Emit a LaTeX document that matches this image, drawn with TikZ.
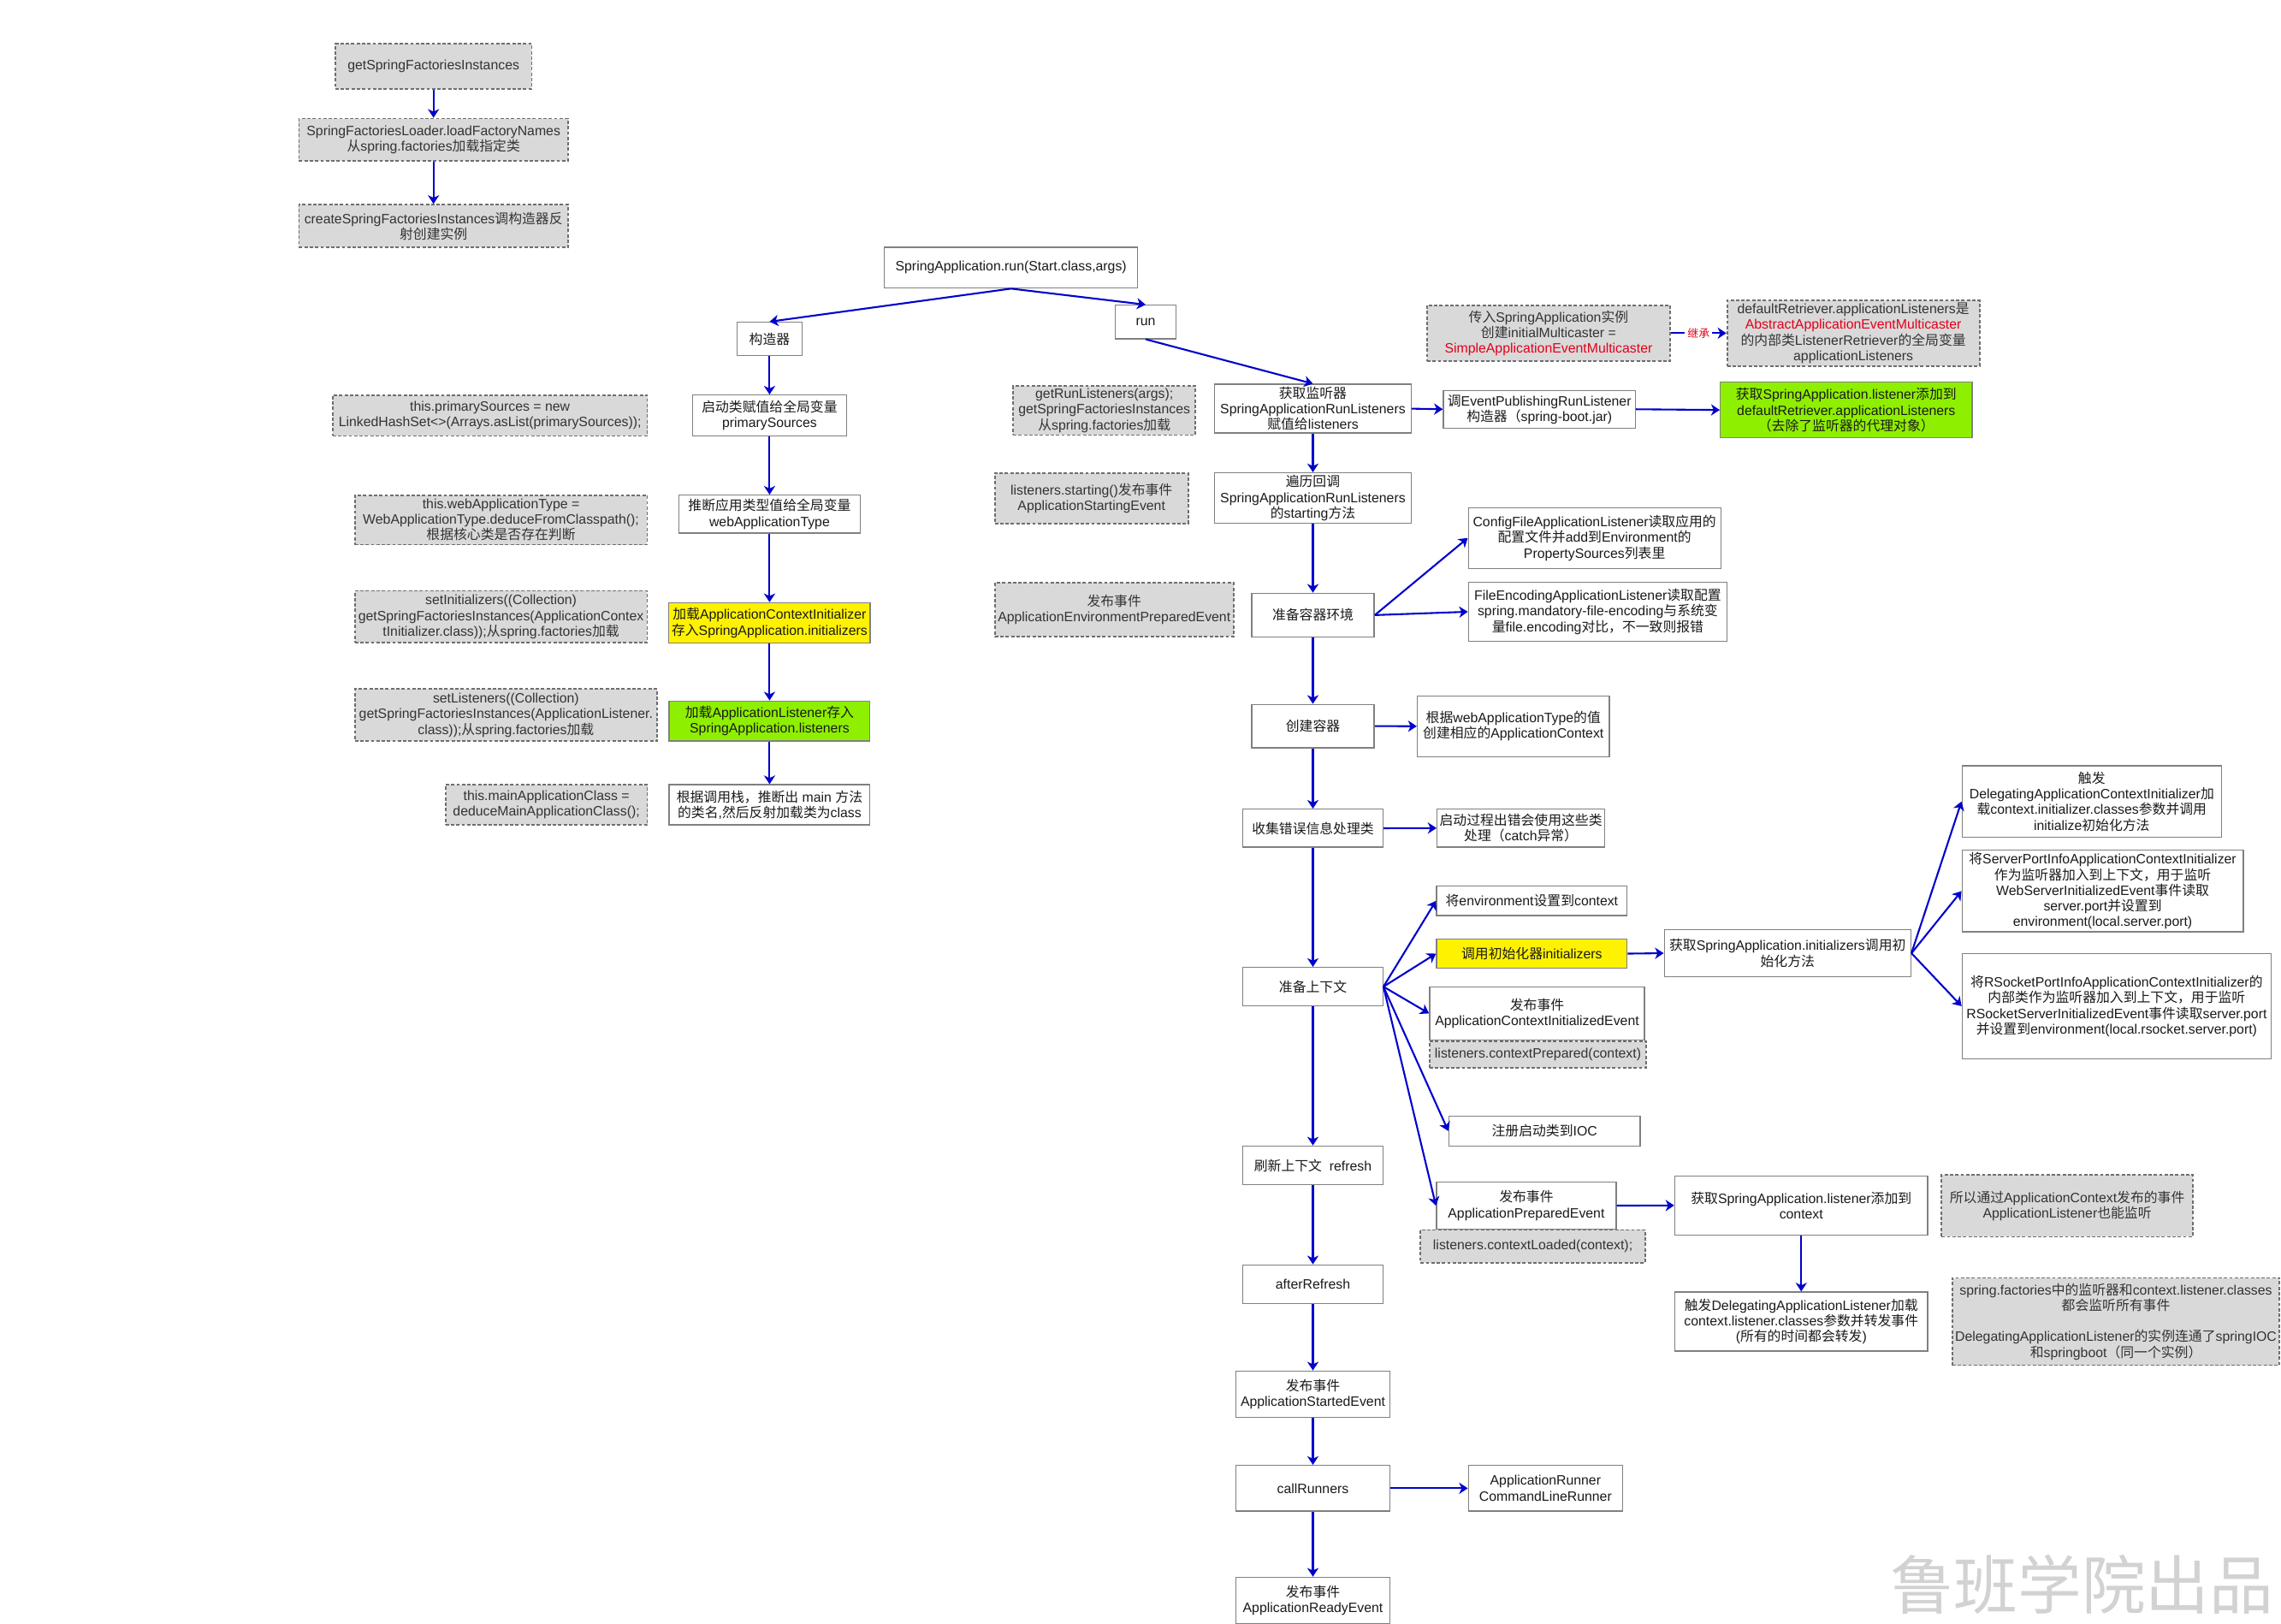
\documentclass[tikz,border=0pt]{standalone}
\usepackage{fontspec}
\usepackage{tikz}
\usetikzlibrary{arrows.meta}
\setmainfont{Liberation Sans}
\newfontfamily\hanface{Noto Sans CJK SC}
\newfontfamily\latface{Liberation Sans}
\XeTeXinterchartokenstate=1
\chardef\hanclass=7
\count255="3000
\loop\XeTeXcharclass\count255=\hanclass\advance\count255 by 1
  \ifnum\count255<"A000\repeat
\count255="FF00
\loop\XeTeXcharclass\count255=\hanclass\advance\count255 by 1
  \ifnum\count255<"FFF0\repeat
\XeTeXinterchartoks 0 \hanclass={\hanface}
\XeTeXinterchartoks 4095 \hanclass={\hanface}
\XeTeXinterchartoks \hanclass 0={\latface}
\XeTeXinterchartoks \hanclass 4095={\latface}
\definecolor{flow}{HTML}{0000CC}
\definecolor{rim}{HTML}{808080}
\definecolor{memorim}{HTML}{6E6E6E}
\definecolor{shade}{HTML}{D9D9D9}
\definecolor{ink}{HTML}{1A1A1A}
\definecolor{memoink}{HTML}{333333}
\definecolor{alert}{HTML}{E3001B}
\definecolor{lime}{HTML}{8FEF00}

\begin{document}
\begin{tikzpicture}[x=0.02cm,y=-0.02cm,
  blk/.style={draw=rim,fill=white,line width=0.45pt,align=center,inner sep=1pt,text=ink,
    font=\fontsize{5.3}{6.1}\selectfont},
  memo/.style={blk,draw=memorim,fill=shade,text=memoink,line width=0.6pt,dash pattern=on 1.3pt off 0.8pt},
  sz/.style 2 args={minimum width=#1*0.02cm,minimum height=#2*0.02cm},
  arr/.style={draw=flow,line width=0.7pt,-{Stealth[length=3.4pt,width=4.4pt,inset=1pt]}}]
  \useasboundingbox (0,0) rectangle (1568,1116);

  \node[memo,sz={135}{31}] (gsfi) at (298,45.5) {getSpringFactoriesInstances};
  \node[memo,sz={185}{29}] (sfl) at (298,96) {SpringFactoriesLoader.loadFactoryNames\\从spring.factories加载指定类};
  \node[memo,sz={185}{29.4}] (csfi) at (298,155.4) {createSpringFactoriesInstances调构造器反\\射创建实例};

  \node[blk,sz={174}{28}] (sarun) at (695,184) {SpringApplication.run(Start.class,args)};
  \node[blk,sz={45}{23}] (ctor) at (529,233) {构造器};
  \node[blk,sz={41.6}{23}] (run) at (787.5,221.3) {run};

  \node[blk,sz={105.6}{28}] (ps) at (529,285.6) {启动类赋值给全局变量\\primarySources};
  \node[blk,sz={125}{26}] (wat) at (529,353.4) {推断应用类型值给全局变量\\webApplicationType};
  \node[blk,fill=yellow,sz={138.4}{27.8}] (init) at (529,428.2) {加载ApplicationContextInitializer\\存入SpringApplication.initializers};
  \node[blk,fill=lime,sz={138}{27.5}] (lis) at (529,495.6) {加载ApplicationListener存入\\SpringApplication.listeners};
  \node[blk,sz={138}{27.6}] (mainc) at (529,553.2) {根据调用栈，推断出 main 方法\\的类名,然后反射加载类为class};

  \node[memo,sz={216.3}{28}] (n1) at (336.8,285.6) {this.primarySources = new\\LinkedHashSet<>(Arrays.asList(primarySources));};
  \node[memo,sz={201}{34}] (n2) at (344.4,357.4) {this.webApplicationType =\\WebApplicationType.deduceFromClasspath();\\根据核心类是否存在判断};
  \node[memo,sz={201}{35.8}] (n3) at (344.4,424) {setInitializers((Collection)\\getSpringFactoriesInstances(ApplicationContex\\tInitializer.class));从spring.factories加载};
  \node[memo,sz={207.8}{35.7}] (n4) at (347.8,491.5) {setListeners((Collection)\\getSpringFactoriesInstances(ApplicationListener.\\class));从spring.factories加载};
  \node[memo,sz={138.7}{27.6}] (n5) at (375.6,553.2) {this.mainApplicationClass =\\deduceMainApplicationClass();};

  \node[memo,sz={125.4}{32.5}] (rn1) at (759.1,282.2) {getRunListeners(args);\\getSpringFactoriesInstances\\从spring.factories加载};
  \node[memo,sz={133}{34.7}] (rn2) at (750.3,342.5) {listeners.starting()发布事件\\ApplicationStartingEvent};
  \node[memo,sz={164}{37.2}] (rn3) at (765.9,419.2) {发布事件\\ApplicationEnvironmentPreparedEvent};

  \node[blk,sz={135}{30.4}] (grl) at (902.5,280.9) {获取监听器\\SpringApplicationRunListeners\\赋值给listeners};
  \node[blk,sz={135}{34.8}] (start) at (902.5,342.4) {遍历回调\\SpringApplicationRunListeners\\的starting方法};
  \node[blk,sz={84.3}{30}] (env) at (902.5,422.8) {准备容器环境};
  \node[blk,sz={84.3}{29.8}] (create) at (902.5,499.1) {创建容器};
  \node[blk,sz={96.3}{26.1}] (err) at (902.5,569.3) {收集错误信息处理类};
  \node[blk,sz={96.2}{26.4}] (prep) at (902.5,678.2) {准备上下文};
  \node[blk,sz={96.2}{26.5}] (refresh) at (902.5,801) {刷新上下文\ \ refresh};
  \node[blk,sz={96.7}{26.5}] (after) at (902.5,882.7) {afterRefresh};
  \node[blk,sz={106}{32}] (started) at (902.5,958.4) {发布事件\\ApplicationStartedEvent};
  \node[blk,sz={106}{31.4}] (call) at (902.5,1023) {callRunners};
  \node[blk,sz={106}{31.7}] (ready) at (902.5,1100) {发布事件\\ApplicationReadyEvent};

  \node[memo,sz={167}{38.4}] (mc) at (1064.5,229) {传入SpringApplication实例\\创建initialMulticaster =\\{\color{alert}SimpleApplicationEventMulticaster}};
  \node[memo,sz={173.5}{43}] (dr) at (1274,229) {defaultRetriever.applicationListeners是\\{\color{alert}AbstractApplicationEventMulticaster}\\的内部类ListenerRetriever的全局变量\\applicationListeners};
  \node[blk,sz={132}{25.8}] (epr) at (1058.2,281.3) {调EventPublishingRunListener\\构造器（spring-boot.jar)};
  \node[blk,fill=lime,sz={173}{38.3}] (grn) at (1269.1,281.8) {获取SpringApplication.listener添加到\\defaultRetriever.applicationListeners\\（去除了监听器的代理对象）};

  \node[blk,sz={173.5}{41.7}] (cfg) at (1096.1,369.8) {ConfigFileApplicationListener读取应用的\\配置文件并add到Environment的\\PropertySources列表里};
  \node[blk,sz={177.8}{40.4}] (fenc) at (1098.3,420.5) {FileEncodingApplicationListener读取配置\\spring.mandatory-file-encoding与系统变\\量file.encoding对比，不一致则报错};
  \node[blk,sz={132}{41.7}] (ctx) at (1040.3,499.2) {根据webApplicationType的值\\创建相应的ApplicationContext};
  \node[blk,sz={114.6}{26.1}] (errn) at (1045.5,569.2) {启动过程出错会使用这些类\\处理（catch异常）};

  \node[blk,sz={131}{20.2}] (setenv) at (1053,619.2) {将environment设置到context};
  \node[blk,fill=yellow,sz={131}{20}] (callinit) at (1053,655.5) {调用初始化器initializers};
  \node[blk,sz={147.7}{36.4}] (aci) at (1056.6,696.6) {发布事件\\ApplicationContextInitializedEvent};
  \node[memo,sz={148.9}{18.2}] (acp) at (1057.2,724.9) {listeners.contextPrepared(context)};
  \node[blk,sz={131.5}{20.6}] (ioc) at (1061.7,777.4) {注册启动类到IOC};
  \node[blk,sz={123.5}{32.2}] (ape) at (1049.2,828.7) {发布事件\\ApplicationPreparedEvent};
  \node[memo,sz={154.5}{22.6}] (acl) at (1053.7,856.7) {listeners.contextLoaded(context);};

  \node[blk,sz={169.5}{32}] (gsi) at (1228.8,655.2) {获取SpringApplication.initializers调用初\\始化方法};
  \node[blk,sz={178.3}{49}] (dac) at (1437.9,550.9) {触发\\DelegatingApplicationContextInitializer加\\载context.initializer.classes参数并调用\\initialize初始化方法};
  \node[blk,sz={193.3}{55.2}] (spi) at (1445.4,612.5) {将ServerPortInfoApplicationContextInitializer\\作为监听器加入到上下文，用于监听\\WebServerInitializedEvent事件读取\\server.port并设置到\\environment(local.server.port)};
  \node[blk,sz={212.4}{72.4}] (rsp) at (1455,691.6) {将RSocketPortInfoApplicationContextInitializer的\\内部类作为监听器加入到上下文，用于监听\\RSocketServerInitializedEvent事件读取server.port\\并设置到environment(local.rsocket.server.port)};

  \node[blk,sz={173.8}{40.6}] (gsl) at (1238.2,828.6) {获取SpringApplication.listener添加到\\context};
  \node[blk,sz={173.8}{40.6}] (tdl) at (1238.2,908.4) {触发DelegatingApplicationListener加载\\context.listener.classes参数并转发事件\\(所有的时间都会转发)};
  \node[memo,sz={172.7}{42.6}] (note1) at (1421,828.8) {所以通过ApplicationContext发布的事件\\ApplicationListener也能监听};
  \node[memo,sz={225}{60}] (note2) at (1454.5,908.4) {spring.factories中的监听器和context.listener.classes\\都会监听所有事件\\[6.1pt]DelegatingApplicationListener的实例连通了springIOC\\和springboot（同一个实例）};
  \node[blk,sz={106}{31.4}] (runner) at (1062.4,1023) {ApplicationRunner\\CommandLineRunner};

  \node[text=gray!35,font=\fontsize{25}{25}\selectfont] (mark) at (1431,1089) {鲁班学院出品};

  \foreach \a/\b in {gsfi/sfl,sfl/csfi,ctor/ps,ps/wat,wat/init,init/lis,lis/mainc,
    grl/start,start/env,env/create,create/err,err/prep,prep/refresh,refresh/after,
    after/started,started/call,call/ready,gsl/tdl}
    \draw[arr] (\a.south) -- (\b.north);
  \draw[arr] (sarun.south) -- (ctor.north);
  \draw[arr] (sarun.south) -- (run.north);
  \draw[arr] (run.south) -- (grl.north);
  \foreach \a/\b in {grl/epr,epr/grn,create/ctx,err/errn,callinit/gsi,ape/gsl,call/runner}
    \draw[arr] (\a.east) -- (\b.west);
  \foreach \b in {cfg,fenc}
    \draw[arr] (env.east) -- (\b.west);
  \foreach \b in {setenv,callinit,aci,ioc,ape}
    \draw[arr] (prep.east) -- (\b.west);
  \foreach \b in {dac,spi,rsp}
    \draw[arr] (gsi.east) -- (\b.west);
  \draw[arr] (mc.east) -- node[fill=white,text=alert,inner sep=1pt,font=\fontsize{4.3}{5}\selectfont]{继承} (dr.west);
\end{tikzpicture}
\end{document}
